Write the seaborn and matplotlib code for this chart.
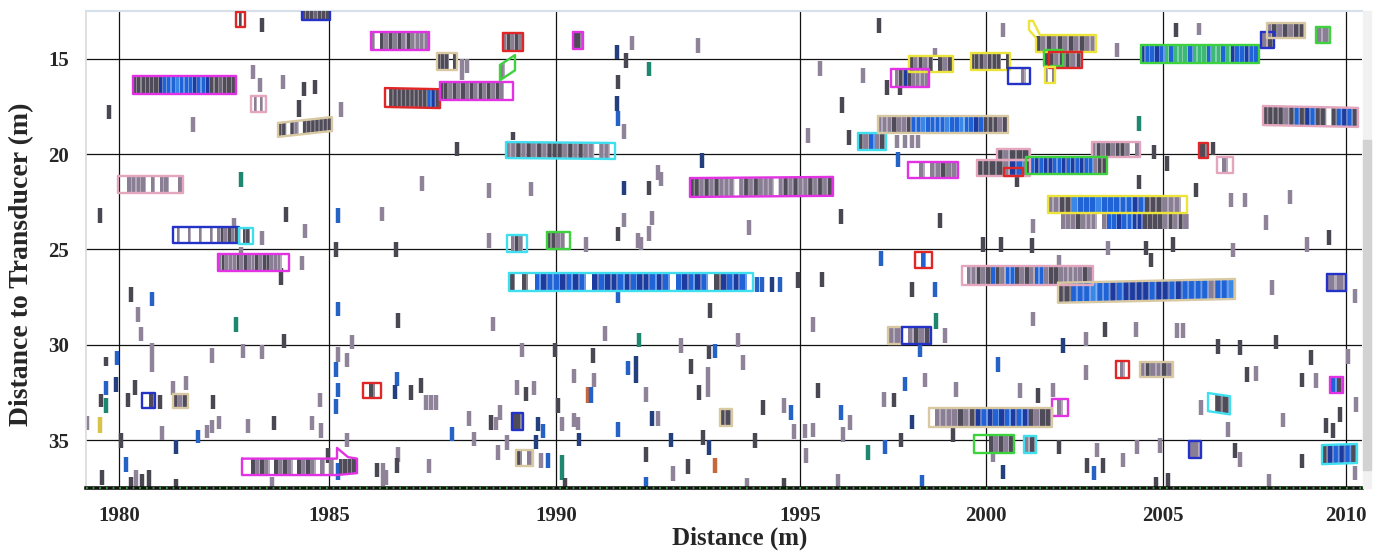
import numpy as np
import pandas as pd
import matplotlib
matplotlib.use("Agg")
import matplotlib.pyplot as plt
from matplotlib.patches import Rectangle
from matplotlib.colors import to_rgb
import seaborn as sns

# ---------------- data ----------------
# x axis: ping index along track; tick labels give the distance (m)
tick_pos = [33, 243, 470, 714, 900, 1077, 1260]
tick_lab = ["1980", "1985", "1990", "1995", "2000", "2005", "2010"]
depth_ticks = [15, 20, 25, 30, 35]

# detected schools: x0, x1 (ping), top depth at left / right (m), height (m), outline, fill pattern
school_x0 = [150, 216, 47, 165, 192, 32, 87, 153, 132, 285, 351, 299, 354, 414, 417, 487, 420, 604, 421, 461,
             423, 772, 792, 823, 805, 885, 922, 950, 958, 963, 959, 1055, 1175, 1181, 1230, 1177, 1006, 1113, 1131, 911,
             891, 918, 940, 822, 962, 975, 829, 876, 972, 1241, 802, 816, 1030, 1054, 1244, 966, 1122, 843, 888, 938,
             1103, 1236, 56, 87, 277, 156, 426, 430, 634]
school_x1 = [159, 244, 150, 180, 246, 97, 153, 167, 203, 343, 371, 354, 427, 429, 437, 497, 529, 747, 441, 484,
             667, 800, 922, 867, 843, 924, 944, 1010, 977, 996, 969, 1173, 1188, 1219, 1244, 1272, 1054, 1122, 1147, 944,
             944, 937, 1021, 872, 1101, 1103, 846, 1007, 1149, 1260, 816, 845, 1043, 1087, 1257, 982, 1144, 966, 928, 950,
             1115, 1271, 69, 102, 295, 271, 437, 447, 646]
school_top_l = [12.55, 12.40, 15.91, 16.96, 18.37, 21.15, 23.83, 23.88, 25.24, 13.60, 14.70, 16.54, 16.22, 15.33, 13.65, 13.60, 19.37, 21.26, 24.25, 24.09,
                26.24, 18.90, 18.00, 14.86, 15.54, 14.70, 15.49, 13.76, 14.54, 14.65, 15.44, 14.28, 13.60, 13.13, 13.34, 17.48, 19.37, 19.42, 20.15, 19.74,
                20.31, 20.73, 20.15, 20.42, 22.20, 23.09, 25.14, 25.87, 26.75, 26.29, 29.07, 29.07, 30.85, 30.90, 31.69, 32.85, 32.53, 33.32, 34.73, 34.78,
                35.04, 35.26, 32.53, 32.58, 32.01, 35.97, 33.58, 35.52, 33.37]
school_top_r = [12.55, 12.40, 15.91, 16.96, 18.06, 21.15, 23.83, 23.88, 25.24, 13.60, 14.70, 16.60, 16.22, 14.81, 13.65, 13.60, 19.42, 21.20, 24.25, 24.09,
                26.24, 18.90, 18.00, 14.86, 15.54, 14.70, 15.49, 13.76, 14.54, 14.65, 15.44, 14.28, 13.60, 13.13, 13.34, 17.58, 19.37, 19.42, 20.15, 19.74,
                20.31, 20.73, 20.15, 20.42, 22.20, 23.09, 25.14, 25.87, 26.55, 26.29, 29.07, 29.07, 30.85, 30.90, 31.69, 32.85, 32.70, 33.32, 34.73, 34.78,
                35.04, 35.20, 32.53, 32.58, 32.01, 35.97, 33.58, 35.52, 33.37]
school_h = [0.79, 0.57, 0.94, 0.83, 0.73, 0.89, 0.84, 0.84, 0.89, 0.94, 0.89, 0.99, 0.95, 0.80, 0.95, 0.89, 0.84, 0.99, 0.89, 0.89,
            0.94, 0.89, 0.90, 0.84, 0.94, 0.89, 0.84, 0.89, 0.84, 0.84, 0.83, 0.95, 0.84, 0.78, 0.84, 1.00, 0.78, 0.79, 0.85, 0.57,
            0.84, 0.42, 0.90, 0.84, 0.89, 0.89, 0.84, 1.00, 1.05, 0.89, 0.89, 0.89, 0.89, 0.79, 0.84, 0.89, 0.95, 0.99, 0.94, 0.89,
            0.89, 1.00, 0.79, 0.74, 0.78, 0.86, 0.89, 0.84, 0.89]
school_edge = ["red", "blue", "magenta", "pink", "tan", "pink", "blue", "cyan", "magenta", "magenta", "tan", "red", "magenta", "green", "red", "magenta", "cyan", "magenta", "cyan", "green",
               "cyan", "cyan", "tan", "yellow", "magenta", "yellow", "blue", "yellow", "green", "red", "yellow", "green", "blue", "tan", "green", "pink", "pink", "red", "pink", "pink",
               "pink", "red", "green", "magenta", "yellow", "none", "red", "pink", "tan", "blue", "tan", "blue", "red", "tan", "magenta", "magenta", "cyan", "tan", "green", "cyan",
               "blue", "cyan", "blue", "tan", "red", "magenta", "blue", "tan", "tan"]
school_fill = ["wdw", "dddmddd", "ddddddnbbblbbbnbbnddmddd", "wgwgw", "ddwdgwddddddd", "wwggggwgwggwwg",
               "wgwwgwwgwwgwgdgdgd", "wddw", "gdgggdgdggdgddgggww", "gwdgdgdgdgggg", "dddwd", "wdddddddddbnd",
               "ddgdgdgdgdgdgdgww", "gww", "gdgdg", "d", "ggdgdgdgdddgdgdggwggw", "ddgdgdgggwgdgdgggwgdgdggdgdgd",
               "wgdgw", "ddggw", "dwdwbnbbnbnbwnbnnbnbnnbnbwbnbnbwdnbnbw", "dgbgd", "gggdggdbblbbbblbblbbnbdddgd",
               "dgdgdwdgd", "wgdndgggg", "dddgdddwd", "wwwgw", "dgdgdgdgdgg", "dgd", "dgddgd", "gwg",
               "nbbnbcbcccbcccbccbcnbbnbb", "gd", "gdgdgdd", "gg", "ddddgdbdnbddwdbnbd", "gdgdgddgwg", "d", "wgw",
               "dgddd", "ddddgnbg", "", "dbnbnnbbnbnbnbbgdd", "wwgwggdgg", "ggddlbbblbbbbbnbdddgggw",
               "gggdgggwgbbnbbnnddddgdgdg", "wbw", "wggdgdbdgbbdgdgbbgddgggggdg", "ddbbblbbnbnnnnbnnbnbbbbgbbl",
               "gg", "gg", "wgdgd", "wgw", "gdggdg", "bd", "wgw", "wdd", "wggggdgdnbnbnbnbndgdd", "wwwdgdgd", "gd",
               "g", "dnbnbd", "wd", "dgd", "wdw", "wwdgdgwdgdgwdgdgwgwgwdddd", "d", "dwg", "dd"]

# irregular outlines (yellow school with tail, magenta arrow-shaped school)
tail_school = 27
tail_x = [943, 947, 954, 1010, 1010, 950, 950, 943, 943]
tail_y = [13.02, 13.02, 13.76, 13.76, 14.65, 14.65, 13.91, 13.49, 13.02]
arrow_school = 65
arrow_x = [156, 251, 251, 262, 271, 271, 251, 156, 156]
arrow_y = [35.97, 35.97, 35.41, 35.89, 35.97, 36.73, 36.83, 36.83, 35.97]

# single echoes: ping, top depth, bottom depth, colour class
echo_x = [176, 167, 174, 197, 218, 229, 213, 255, 23, 107, 155, 14, 200, 252, 296, 219, 176, 148, 250, 310, 216, 195, 155,
          45, 66, 52, 252, 150, 55, 198, 312, 66, 126, 157, 176, 266, 252, 261, 20, 31, 250, 20, 30, 49, 87, 100, 252, 311, 309,
          15, 20, 42, 74, 127, 234, 250, 1, 14, 76, 112, 121, 126, 133, 162, 188, 226, 235, 261, 35, 90, 40, 242, 252, 16, 45, 50,
          56, 63, 90, 186, 291, 300, 312,
          546, 531, 540, 563, 612, 734, 777, 793, 376, 381, 532, 531, 532, 538, 756, 722, 763, 371, 427, 616, 572, 575, 538, 563,
          336, 403, 445, 755, 663, 538, 566, 532, 563, 552, 555, 403, 500, 712, 736, 671, 676, 686, 694, 532, 407, 624, 727, 519,
          553, 595, 652, 436, 469, 507, 623, 629, 542, 550, 657, 605, 488, 508, 622, 732, 325, 335, 340, 345, 350, 431, 440, 448,
          502, 505, 560, 613, 472, 677, 698, 705, 755, 764, 566, 572, 488, 492, 383, 405, 410, 414, 452, 457, 366, 388, 421, 450,
          476, 493, 532, 585, 617, 623, 669, 708, 719, 727, 757, 720, 782, 412, 455, 462, 476, 560, 602, 587, 629, 311, 343, 297,
          661, 698, 752, 560, 479,
          917, 1090, 1113, 1031, 801, 814, 849, 1053, 811, 819, 826, 832, 812, 1068, 1081, 1127, 931, 1053, 1110, 1145, 1159, 1204,
          854, 947, 1180, 1243, 1221, 1147, 1087, 1060, 1065, 1022, 973, 946, 915, 897, 795,
          826, 849, 1186, 1269, 850, 947, 859, 834, 1000, 1019, 1050, 1091, 1097, 977, 1132, 1154, 1190, 1262, 1225, 912, 1000,
          1161, 1170, 1216, 1230, 1270, 819, 839, 870, 798, 808, 934, 952, 967, 1115, 1197, 1254, 1240, 1247, 1142, 826, 815, 867,
          799, 907, 973, 1011, 1051, 1074, 1149, 1154, 1037, 1001, 1017, 1008, 917, 836, 1070, 1082, 1183, 1216, 1269]
echo_top = [12.87, 15.33, 16.01, 15.85, 16.22, 16.12, 17.17, 17.27, 17.43, 18.06, 20.94, 22.83, 22.78, 22.83, 22.78, 23.67, 24.04, 23.35, 24.61, 24.61, 25.35, 25.98, 24.88,
            26.98, 27.24, 28.02, 27.76, 28.54, 29.07, 29.43, 28.33, 29.91, 30.17, 29.96, 30.01, 29.49, 30.12, 30.43, 30.64, 30.33, 30.91, 31.90, 31.69, 31.85, 31.90, 31.64, 32.01, 31.43, 32.11,
            32.58, 32.79, 32.53, 32.64, 32.64, 32.53, 32.85, 33.74, 33.79, 34.26, 34.47, 34.21, 33.95, 33.74, 33.90, 33.74, 33.74, 34.10, 34.63, 34.63, 34.99, 35.89, 35.41, 36.20, 36.57, 36.94, 36.57,
            36.78, 36.57, 37.04, 36.94, 36.20, 36.57, 35.36,
            13.81, 14.28, 14.70, 15.17, 13.91, 15.12, 15.49, 12.87, 15.00, 15.02, 15.85, 16.96, 17.74, 18.42, 17.01, 18.63, 18.74, 19.37, 18.84, 19.95, 20.57, 20.94, 21.41, 21.41,
            21.15, 21.52, 21.46, 22.89, 23.46, 23.10, 22.99, 23.83, 23.78, 24.15, 24.36, 24.15, 24.36, 26.19, 26.19, 26.45, 26.45, 26.45, 26.45, 27.13, 28.54, 27.81, 28.54, 29.02,
            29.38, 29.65, 29.38, 29.91, 29.91, 30.17, 30.01, 29.96, 30.85, 30.59, 30.54, 30.75, 31.27, 31.48, 31.17, 32.01, 32.11, 31.74, 32.64, 32.64, 32.64, 31.85, 32.22, 31.90,
            32.22, 32.22, 32.22, 32.11, 32.79, 32.90, 32.79, 33.16, 33.16, 33.69, 33.48, 33.48, 33.58, 33.79, 33.48, 33.69, 33.79, 33.16, 33.79, 34.16, 34.31, 34.58, 34.73, 34.73,
            33.79, 34.63, 34.05, 34.63, 34.47, 34.99, 34.63, 34.16, 34.16, 34.10, 34.31, 35.41, 35.26, 35.26, 35.67, 35.67, 35.78, 35.36, 35.99, 36.36, 35.93, 35.93, 35.99, 36.20,
            36.99, 36.99, 36.78, 36.94, 36.99,
            13.13, 13.13, 13.13, 14.18, 16.12, 16.38, 14.44, 18.00, 19.00, 19.00, 19.00, 19.00, 19.89, 19.53, 20.10, 19.37, 21.00, 21.10, 21.52, 22.04, 22.04, 21.89,
            23.09, 23.41, 23.20, 23.98, 24.36, 24.67, 24.36, 24.57, 25.19, 24.57, 25.30, 24.41, 24.36, 24.36, 25.09,
            26.71, 26.71, 26.60, 27.08, 28.33, 28.28, 29.12, 29.91, 29.33, 28.81, 28.81, 28.86, 28.86, 29.65, 29.70, 29.75, 29.49, 30.22, 30.27, 30.64, 31.06,
            31.17, 31.11, 31.48, 31.48, 32.74, 31.69, 31.48, 31.95, 32.48, 32.53, 32.01, 32.27, 32.01, 32.90, 33.58, 33.27, 33.84, 34.10, 34.05, 33.69, 34.63, 34.31,
            34.99, 35.41, 34.99, 35.15, 34.99, 34.89, 35.15, 35.62, 35.67, 35.93, 35.93, 36.36, 36.31, 36.83, 36.94, 36.73, 36.78, 35.72, 36.36]
echo_bot = [13.60, 16.06, 16.75, 16.59, 16.96, 16.85, 18.06, 18.06, 18.16, 18.84, 21.72, 23.62, 23.57, 23.62, 23.51, 24.41, 24.77, 23.98, 25.40, 25.40, 26.08, 26.87, 25.30,
            27.76, 27.97, 28.81, 28.49, 29.33, 29.80, 30.17, 29.12, 31.43, 30.96, 30.70, 30.75, 30.22, 30.90, 31.17, 31.11, 31.06, 31.69, 32.63, 32.48, 32.63, 32.63, 32.37, 32.74, 32.17, 32.85,
            33.27, 33.58, 33.27, 33.37, 33.37, 33.27, 33.63, 34.47, 34.63, 34.99, 35.15, 34.89, 34.63, 34.42, 34.63, 34.47, 34.47, 34.89, 35.36, 35.41, 35.72, 36.68, 36.20, 37.09, 37.36, 37.5, 37.5,
            37.5, 37.5, 37.5, 37.5, 36.94, 37.36, 36.15,
            14.54, 15.02, 15.49, 15.91, 14.70, 15.91, 16.27, 13.65, 16.12, 15.75, 16.59, 17.74, 18.53, 19.21, 17.85, 19.42, 19.53, 20.11, 19.26, 20.73, 21.36, 21.68, 22.15, 22.15,
            21.94, 22.30, 22.20, 23.67, 24.25, 23.83, 23.72, 24.57, 24.57, 24.93, 25.04, 24.93, 25.14, 27.03, 26.98, 27.24, 27.24, 27.24, 27.24, 27.81, 29.28, 28.59, 29.33, 29.80,
            30.12, 30.43, 30.12, 30.64, 30.64, 30.96, 30.75, 30.70, 31.59, 32.01, 31.33, 31.54, 32.01, 32.22, 32.74, 32.79, 32.90, 32.53, 33.42, 33.42, 33.42, 32.63, 32.95, 32.63,
            33.06, 33.06, 33.00, 32.90, 33.58, 33.69, 33.58, 33.95, 33.95, 34.47, 34.26, 34.26, 34.31, 34.47, 34.26, 34.47, 34.47, 33.95, 34.52, 34.89, 35.05, 35.31, 35.52, 35.47,
            34.52, 35.31, 34.84, 35.36, 35.26, 35.78, 35.41, 34.94, 34.89, 34.84, 35.10, 36.20, 36.04, 36.04, 36.46, 36.46, 37.09, 36.15, 36.78, 37.15, 36.73, 36.73, 36.73, 37.40,
            37.5, 37.5, 37.5, 37.5, 37.5,
            13.86, 13.86, 13.76, 14.91, 16.90, 16.90, 14.81, 18.79, 19.68, 19.68, 19.68, 19.68, 20.68, 20.26, 20.89, 20.05, 21.73, 21.83, 22.25, 22.78, 22.78, 22.62,
            23.88, 24.15, 23.98, 24.77, 25.14, 25.40, 25.14, 25.30, 25.93, 25.30, 25.93, 25.19, 25.14, 25.14, 25.88,
            27.50, 27.50, 27.39, 27.81, 29.17, 29.02, 29.91, 30.64, 30.06, 29.59, 29.59, 29.65, 29.65, 30.43, 30.49, 30.54, 30.22, 31.01, 31.06, 31.43, 31.85,
            31.95, 31.90, 32.22, 32.27, 33.53, 32.43, 32.22, 32.74, 33.27, 33.27, 32.79, 33.06, 32.74, 33.69, 34.31, 34.05, 34.63, 34.89, 34.84, 34.42, 35.36, 35.10,
            35.72, 36.15, 35.72, 35.89, 35.72, 35.67, 35.93, 36.41, 36.41, 36.73, 36.73, 37.09, 37.04, 37.5, 37.5, 37.5, 37.5, 36.46, 37.09]
echo_kind = [
    "d", "g", "g", "g", "d", "d", "d", "g", "d", "g", "t", "d", "d", "b", "g", "g", "g", "g", "d", "d", "g", "d", "g",
    "d", "b", "g", "b", "t", "g", "d", "d", "g", "g", "g", "g", "g", "g", "g", "d", "b", "b", "b", "n", "d", "g", "g", "b", "b", "n",
    "d", "t", "d", "d", "d", "g", "b", "g", "y", "g", "b", "g", "g", "g", "g", "d", "g", "g", "g", "d", "n", "b", "d", "b", "d", "d", "g",
    "d", "d", "d", "g", "d", "g", "g",
    "g", "n", "d", "t", "g", "g", "g", "d", "g", "g", "d", "n", "b", "g", "d", "g", "d", "d", "d", "n", "g", "g", "n", "d",
    "g", "g", "g", "d", "g", "g", "g", "d", "g", "g", "g", "g", "g", "d", "d", "b", "b", "n", "b", "b", "g", "d", "g", "g",
    "t", "g", "g", "g", "d", "d", "d", "b", "b", "n", "g", "d", "g", "g", "g", "d", "d", "d", "g", "g", "g", "g", "d", "g",
    "o", "b", "g", "d", "d", "d", "g", "b", "b", "g", "n", "g", "g", "g", "g", "d", "g", "g", "n", "b", "b", "g", "g", "n",
    "g", "n", "b", "n", "d", "n", "d", "g", "g", "g", "g", "g", "t", "g", "g", "b", "t", "d", "d", "g", "o", "d", "g", "g",
    "g", "d", "g", "b", "d",
    "g", "d", "g", "g", "d", "d", "g", "t", "g", "g", "g", "g", "b", "d", "d", "d", "d", "d", "d", "g", "g", "g",
    "d", "g", "g", "d", "g", "g", "d", "d", "d", "g", "g", "d", "d", "d", "b",
    "d", "b", "g", "g", "t", "g", "g", "b", "g", "d", "g", "g", "g", "n", "d", "d", "d", "g", "d", "b", "g",
    "d", "g", "d", "g", "g", "b", "g", "g", "g", "d", "g", "d", "g", "g", "g", "d", "d", "d", "g", "n", "d", "d",
    "b", "g", "d", "g", "g", "g", "d", "g", "g", "d", "d", "b", "n", "b", "d", "d", "g", "d", "g"]

# ---------------- styles ----------------
fill_colors = {"g": "#8a7e95", "d": "#4f4b58", "m": "#6d6677", "b": "#1f63d6", "n": "#1d3b9f",
               "l": "#3b87e8", "c": "#3db877"}
echo_colors = {"g": "#8e8399", "d": "#4a4652", "b": "#2462c6", "n": "#233f7e", "t": "#1e8770",
               "y": "#d9c24a", "o": "#c8663c"}
edge_colors = {"magenta": "#e332e3", "red": "#e02626", "blue": "#2432c8", "cyan": "#3fdff0",
               "yellow": "#ece43a", "green": "#3ed23e", "pink": "#e3a6bd", "tan": "#d9c9a2"}


def lighter(c, f=0.35):
    r, g, b = to_rgb(c)
    return (r + (1 - r) * f, g + (1 - g) * f, b + (1 - b) * f)


sns.set_theme(style="white")
plt.rcParams["font.family"] = ["Liberation Serif", "DejaVu Serif"]

fig = plt.figure(figsize=(13.76, 5.51), dpi=100)
ax = fig.add_axes([86 / 1376, 1 - 488 / 551, (1362 - 86) / 1376, (488 - 11) / 551])

# school fills: vertical ping stripes
for x0, x1, tl, tr, h, code in zip(school_x0, school_x1, school_top_l, school_top_r, school_h, school_fill):
    n = len(code)
    if n == 0:
        continue
    w = (x1 - x0) / n
    for j, ch in enumerate(code):
        if ch == "w":
            continue
        xa = x0 + j * w
        xe = xa + w
        xb = xa + w * 0.72
        ta = tl + (tr - tl) * (xa - x0) / (x1 - x0)
        te = tl + (tr - tl) * (xe - x0) / (x1 - x0)
        tb = tl + (tr - tl) * (xb - x0) / (x1 - x0)
        ax.fill([xa, xe, xe, xa], [ta + 0.04, te + 0.04, te + h - 0.04, ta + h - 0.04],
                color=lighter(fill_colors[ch]), lw=0, zorder=3)
        ax.fill([xa, xb, xb, xa], [ta + 0.04, tb + 0.04, tb + h - 0.04, ta + h - 0.04],
                color=fill_colors[ch], lw=0, zorder=3)

# single echoes
ax.vlines(echo_x, echo_top, echo_bot, colors=[echo_colors[k] for k in echo_kind],
          linewidth=3.2, zorder=2)

# school outlines via seaborn
rows = []
for i, (x0, x1, tl, tr, h, e) in enumerate(zip(school_x0, school_x1, school_top_l,
                                               school_top_r, school_h, school_edge)):
    if e == "none":
        continue
    if i == tail_school:
        xs, ys = tail_x, tail_y
    elif i == arrow_school:
        xs, ys = arrow_x, arrow_y
    else:
        xs = [x0, x1, x1, x0, x0]
        ys = [tl, tr, tr + h, tl + h, tl]
    sid = f"s{i:02d}"
    for k, (xx, yy) in enumerate(zip(xs, ys)):
        rows.append({"sid": sid, "k": k, "x": xx, "y": yy, "edge": e})
outl = pd.DataFrame(rows)
pal = {sid: edge_colors[e] for sid, e in outl.groupby("sid")["edge"].first().items()}
sns.lineplot(data=outl, x="x", y="y", hue="sid", units="sid", estimator=None, sort=False,
             palette=pal, legend=False, linewidth=1.7, ax=ax, zorder=4)

# axes
ax.set_xlim(0, 1276)
ax.set_ylim(37.51, 12.50)
ax.set_xticks(tick_pos)
ax.set_xticklabels(tick_lab)
ax.set_yticks(depth_ticks)
ax.grid(True, color="#111111", linewidth=0.9)
ax.set_axisbelow(True)
ax.tick_params(axis="both", length=0, labelsize=15)
ax.tick_params(axis="x", pad=13)
ax.tick_params(axis="y", pad=12)
for lab in ax.get_xticklabels() + ax.get_yticklabels():
    lab.set_fontweight("bold")
ax.set_xlabel("Distance (m)", fontsize=18, fontweight="bold")
ax.xaxis.set_label_coords((740 - 86) / 1276, -(538 - 488) / 477)
ax.xaxis.label.set_va("center")
ax.set_ylabel("Distance to Transducer (m)", fontsize=20, fontweight="bold")
ax.yaxis.set_label_coords((22 - 86) / 1276, (488 - 264) / 477)
ax.yaxis.label.set_va("center")

ax.spines["right"].set_visible(False)
ax.spines["left"].set_color("#dcdcdc")
ax.spines["top"].set_color("#d6e0ea")
ax.spines["top"].set_linewidth(1.5)
ax.spines["bottom"].set_color("#111111")
ax.spines["bottom"].set_linewidth(2.6)
ax.plot([0, 1], [0, 0], transform=ax.transAxes, color="#3cc03c", ls=(0, (1, 3)),
        lw=1.2, clip_on=False, zorder=6)

# scrollbar remnant at the right edge
fig.patches.append(Rectangle((1363 / 1376, 1 - 488 / 551), 8 / 1376, 477 / 551,
                             transform=fig.transFigure, color="#f1f1f1", zorder=0))
fig.patches.append(Rectangle((1363 / 1376, 1 - 470 / 551), 8 / 1376, 330 / 551,
                             transform=fig.transFigure, color="#d2d2d2", zorder=0))

fig.savefig("out.png", dpi=100)
